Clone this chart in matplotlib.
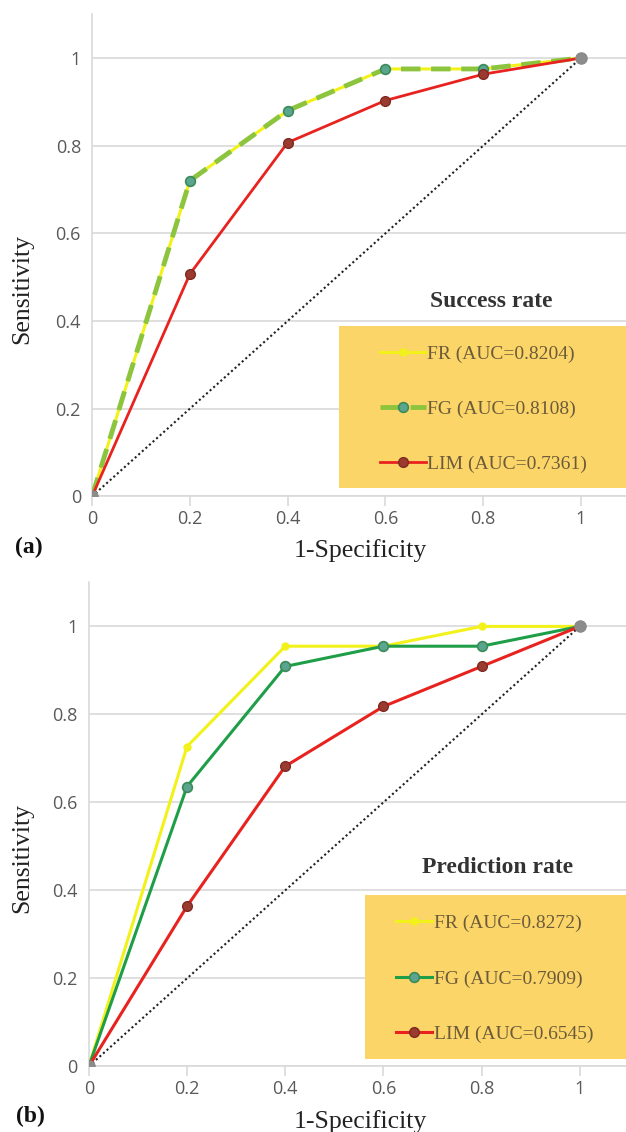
import matplotlib
matplotlib.use("Agg")
import matplotlib.pyplot as plt
from matplotlib.patches import Rectangle

x = [0, 0.2, 0.4, 0.6, 0.8, 1.0]

# (a) success rate
fr_a = [0, 0.72, 0.88, 0.975, 0.975, 1.0]
fg_a = [0, 0.72, 0.88, 0.975, 0.975, 1.0]
lim_a = [0, 0.507, 0.807, 0.903, 0.963, 1.0]
labels_a = ["FR (AUC=0.8204)", "FG (AUC=0.8108)", "LIM (AUC=0.7361)"]

# (b) prediction rate
fr_b = [0, 0.727, 0.955, 0.955, 1.0, 1.0]
fg_b = [0, 0.636, 0.909, 0.955, 0.955, 1.0]
lim_b = [0, 0.364, 0.682, 0.818, 0.909, 1.0]
labels_b = ["FR (AUC=0.8272)", "FG (AUC=0.7909)", "LIM (AUC=0.6545)"]

ticks = [0, 0.2, 0.4, 0.6, 0.8, 1]
tick_labels = ["0", "0.2", "0.4", "0.6", "0.8", "1"]

SERIF = "Liberation Serif"
GRID = "#d9d9d9"
BOX = "#fcd568"
YEL = "#f2f21a"
RED = "#e8231f"

fig = plt.figure(figsize=(6.26, 11.32), dpi=100)


def setup(ax, xmax, ylab_x):
    ax.set_xlim(0, xmax)
    ax.set_ylim(0, 1.1)
    ax.set_xticks(ticks)
    ax.set_xticklabels(tick_labels)
    ax.set_yticks(ticks)
    ax.set_yticklabels(tick_labels)
    for s in ["top", "right"]:
        ax.spines[s].set_visible(False)
    ax.spines["left"].set_color(GRID)
    ax.spines["bottom"].set_color(GRID)
    ax.spines["left"].set_linewidth(1.2)
    ax.spines["bottom"].set_linewidth(1.2)
    ax.tick_params(axis="x", colors=GRID, length=7, width=1.2,
                   labelcolor="#595959", labelsize=13, pad=3)
    ax.tick_params(axis="y", length=0, labelcolor="#595959", labelsize=13, pad=8)
    for lab in ax.get_xticklabels() + ax.get_yticklabels():
        lab.set_family("Open Sans")
    ax.yaxis.grid(True, color=GRID, lw=1.2, zorder=0)
    ax.set_axisbelow(True)
    ax.set_ylabel("Sensitivity", family=SERIF, fontsize=18.5, color="#222222",
                  va="center")
    ax.yaxis.set_label_coords(ylab_x, 0.43)
    ax.plot([0, 1], [0, 1], ls=(0, (1, 1.3)), color="#222222", lw=1.5, zorder=2)


# ---- panel (a)
ax1 = fig.add_axes([0.147, 0.5615, 0.853, 0.426])
setup(ax1, 1.092, -0.131)
h1, = ax1.plot(x, fr_a, color=YEL, lw=2.2, marker="o", ms=5,
               mfc=YEL, mec=YEL, zorder=3, label=labels_a[0])
h2, = ax1.plot(x, fg_a, color="#8cc43e", lw=3.5, ls=(0, (4, 2.2)), marker="o", ms=7,
               mfc="#5aa58d", mec="#3b8b5a", mew=1.2, zorder=4, label=labels_a[1])
h3, = ax1.plot(x, lim_a, color=RED, lw=2, marker="o", ms=7,
               mfc="#9b3b30", mec="#7d2a22", zorder=5, label=labels_a[2])
ax1.plot([0, 1], [0, 1], ls="none", marker="o", ms=8, mfc="#8c8c8c", mec="#8c8c8c", zorder=6)
ax1.add_patch(Rectangle((0.505, 0.018), 0.587, 0.371, facecolor=BOX,
                        edgecolor="none", zorder=1.5, clip_on=False))
ax1.text(0.816, 0.444, "Success rate", family=SERIF, fontsize=17, fontweight="bold",
         color="#333333", ha="center", va="center")
leg1 = ax1.legend(handles=[h1, h2, h3], loc="center left",
                  bbox_to_anchor=(0.539, 0.181), frameon=False, borderpad=0,
                  borderaxespad=0, handlelength=2.35, handletextpad=0.1,
                  labelspacing=1.92, prop={"family": SERIF, "size": 14})
for t in leg1.get_texts():
    t.set_color("#6b5b3a")
fig.text(0.575, 0.514, "1-Specificity", family=SERIF, fontsize=18.5,
         color="#222222", ha="center", va="center")
fig.text(0.024, 0.516, "(a)", family=SERIF, fontsize=17, fontweight="bold",
         color="#111111", ha="left", va="center")

# ---- panel (b)
ax2 = fig.add_axes([0.1419, 0.058, 0.858, 0.4275])
setup(ax2, 1.094, -0.124)
g1, = ax2.plot(x, fr_b, color=YEL, lw=2.2, marker="o", ms=5,
               mfc=YEL, mec=YEL, zorder=3, label=labels_b[0])
g2, = ax2.plot(x, fg_b, color="#1f9e48", lw=2.2, marker="o", ms=7,
               mfc="#5aa58d", mec="#3b8b5a", mew=1.2, zorder=4, label=labels_b[1])
g3, = ax2.plot(x, lim_b, color=RED, lw=2.2, marker="o", ms=7,
               mfc="#9b3b30", mec="#7d2a22", zorder=5, label=labels_b[2])
ax2.plot([0, 1], [0, 1], ls="none", marker="o", ms=8, mfc="#8c8c8c", mec="#8c8c8c", zorder=6)
ax2.add_patch(Rectangle((0.562, 0.017), 0.532, 0.373, facecolor=BOX,
                        edgecolor="none", zorder=1.5, clip_on=False))
ax2.text(0.833, 0.452, "Prediction rate", family=SERIF, fontsize=17, fontweight="bold",
         color="#333333", ha="center", va="center")
leg2 = ax2.legend(handles=[g1, g2, g3], loc="center left",
                  bbox_to_anchor=(0.572, 0.181), frameon=False, borderpad=0,
                  borderaxespad=0, handlelength=1.85, handletextpad=0.1,
                  labelspacing=1.95, prop={"family": SERIF, "size": 14})
for t in leg2.get_texts():
    t.set_color("#6b5b3a")
fig.text(0.575, 0.009, "1-Specificity", family=SERIF, fontsize=18.5,
         color="#222222", ha="center", va="center")
fig.text(0.026, 0.0135, "(b)", family=SERIF, fontsize=17, fontweight="bold",
         color="#111111", ha="left", va="center")

fig.savefig("out.png", dpi=100)
